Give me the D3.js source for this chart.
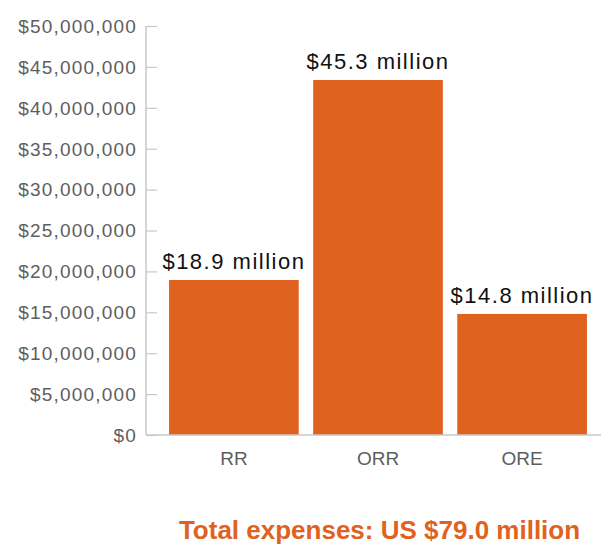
<!DOCTYPE html>
<html>
<head>
<meta charset="utf-8">
<script src="https://cdn.jsdelivr.net/npm/d3@7"></script>
<style>
  html, body { margin: 0; padding: 0; background: #fff; }
  svg { display: block; }
  text { font-family: "Liberation Sans", Arial, Helvetica, sans-serif; }
</style>
</head>
<body>
<svg id="chart" width="601" height="545"></svg>
<script>
const categories = ["RR", "ORR", "ORE"];
const values = [18.95e6, 43.4e6, 14.8e6];
const valueLabels = ["$18.9 million", "$45.3 million", "$14.8 million"];
const yTicks = [0, 5e6, 10e6, 15e6, 20e6, 25e6, 30e6, 35e6, 40e6, 45e6, 50e6];
const title = "Total expenses: US $79.0 million";

const svg = d3.select("#chart");
const axisX = 146, y0 = 435, yTop = 26;

const x = d3.scaleBand().domain(categories).range([axisX, 610]).paddingInner(0.1).paddingOuter(0.16);
const y = d3.scaleLinear().domain([0, 50e6]).range([y0, yTop]);

// bars
svg.append("g").selectAll("rect").data(categories).join("rect")
  .attr("x", d => x(d))
  .attr("width", x.bandwidth())
  .attr("y", (d, i) => y(values[i]))
  .attr("height", (d, i) => y0 - y(values[i]))
  .attr("fill", "#e0621f");

// value labels
svg.append("g").selectAll("text").data(categories).join("text")
  .attr("x", d => x(d) + x.bandwidth() / 2)
  .attr("y", (d, i) => y(values[i]) - 11)
  .attr("text-anchor", "middle")
  .attr("font-size", 22)
  .attr("letter-spacing", "1.5px")
  .attr("fill", "#111")
  .text((d, i) => valueLabels[i]);

// y axis
const fmt = d => "$" + d3.format(",")(d);
const yAxis = d3.axisRight(y).tickValues(yTicks).tickSize(11).tickFormat("");
const gy = svg.append("g").attr("transform", `translate(${axisX},0)`).call(yAxis);
gy.select(".domain").remove();
gy.selectAll(".tick line").attr("stroke", "#c8c8c8").attr("stroke-width", 1.2);
svg.append("line").attr("x1", axisX).attr("x2", axisX).attr("y1", yTop).attr("y2", y0)
  .attr("stroke", "#c8c8c8").attr("stroke-width", 1.5);
svg.append("g").selectAll("text").data(yTicks).join("text")
  .attr("x", 137)
  .attr("y", d => y(d))
  .attr("dy", "0.36em")
  .attr("text-anchor", "end")
  .attr("font-size", 19)
  .attr("letter-spacing", "1.2px")
  .attr("fill", "#5e5e5e")
  .text(fmt);

// x axis
const xAxis = d3.axisBottom(x).tickSize(0).tickPadding(0);
const gx = svg.append("g").attr("transform", `translate(0,${y0})`).call(xAxis);
gx.select(".domain").remove();
gx.selectAll(".tick text").remove();
svg.append("line").attr("x1", axisX).attr("x2", 601).attr("y1", y0).attr("y2", y0)
  .attr("stroke", "#c8c8c8").attr("stroke-width", 1.5);
svg.append("g").selectAll("text").data(categories).join("text")
  .attr("x", d => x(d) + x.bandwidth() / 2)
  .attr("y", 465)
  .attr("text-anchor", "middle")
  .attr("font-size", 19)
  .attr("fill", "#5e5e5e")
  .text(d => d);

// title
svg.append("text")
  .attr("x", 379.5)
  .attr("y", 539)
  .attr("text-anchor", "middle")
  .attr("font-size", 26)
  .attr("font-weight", "bold")
  .attr("fill", "#e0621f")
  .text(title);
</script>
</body>
</html>
